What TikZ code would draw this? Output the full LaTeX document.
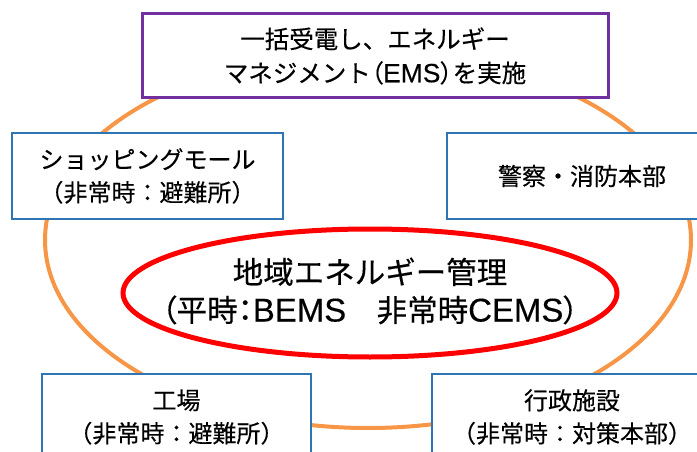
\documentclass[tikz,border=0pt]{standalone}
\usepackage{fontspec}
\newfontfamily\jp[FakeBold=0.3]{Noto Sans CJK JP}
\newfontfamily\jpp[FakeBold=0.3,RawFeature=+palt]{Noto Sans CJK JP}
\newfontfamily\lat[FakeBold=0.3,Scale=1.08]{Liberation Sans}
\newcommand{\tightp}[1]{{\jpp #1}}
\definecolor{ringorange}{HTML}{F79646}
\definecolor{boxpurple}{HTML}{7030A0}
\definecolor{boxblue}{HTML}{2E75B6}
\definecolor{corered}{HTML}{FF0000}
\tikzset{
  sitebox/.style={draw=boxblue, line width=1.6pt, fill=white, rectangle,
    minimum height=86pt, inner sep=0pt, align=center,
    font=\jp\fontsize{24}{33}\selectfont},
  topbox/.style={draw=boxpurple, line width=3pt, fill=white, rectangle,
    minimum width=466pt, minimum height=84pt, inner sep=0pt, align=center,
    font=\jp\fontsize{24.5}{34}\selectfont},
  coretext/.style={inner sep=0pt, align=center,
    font=\jp\fontsize{30.5}{38}\selectfont},
  corering/.style={draw=corered, line width=5pt, fill=white},
}
\begin{document}
\begin{tikzpicture}[x=1pt,y=-1pt]
\useasboundingbox (0,0) rectangle (697,452);
\clip (0,0) rectangle (697,452);
\draw[ringorange, line width=4pt] (368,240) ellipse [x radius=323pt, y radius=188pt];
\node[topbox] (ems) at (375,56) {一括受電し、エネルギー\\マネジメント\tightp{（}{\lat EMS}\tightp{）}を実施};
\node[sitebox, minimum width=271pt] (mall) at (147.5,176) {ショッピングモール\\（非常時：避難所）};
\node[sitebox, minimum width=270pt] (police) at (582,176) {警察・消防本部};
\node[sitebox, minimum width=269pt] (factory) at (176.5,417) {工場\\（非常時：避難所）};
\node[sitebox, minimum width=280pt] (gov) at (572,417) {行政施設\\（非常時：対策本部）};
\draw[corering] (370,293) ellipse [x radius=247pt, y radius=64pt];
\node[coretext] (core) at (370,291) {地域エネルギー管理\\\tightp{（}平時\tightp{：}{\lat BEMS}　非常時{\lat CEMS}\tightp{）}};
\end{tikzpicture}
\end{document}
